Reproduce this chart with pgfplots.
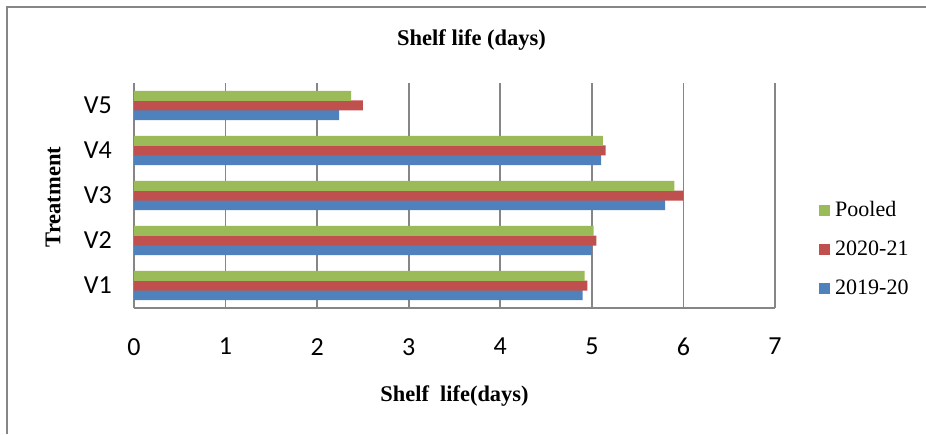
\documentclass[border=0pt]{standalone}
\usepackage{fontspec}
\setmainfont{Liberation Serif}
\newfontfamily\calibri{Carlito}
\usepackage{pgfplots}
\pgfplotsset{compat=1.18}
\definecolor{cBlue}{HTML}{4F81BD}
\definecolor{cRed}{HTML}{C0504D}
\definecolor{cGreen}{HTML}{9BBB59}
\definecolor{cGrid}{HTML}{868686}
\begin{document}
\begin{tikzpicture}[x=1pt,y=1pt]
\useasboundingbox (0pt,0pt) rectangle (926pt,434pt);
\draw[cGrid, line width=1.5pt] (7pt,0pt) -- (7pt,427pt) -- (926pt,427pt);
\node[font=\fontsize{22.5}{24}\selectfont\bfseries] at (471.5pt,394pt) {Shelf life (days)};
\begin{axis}[
  at={(134pt,126pt)}, anchor=south west,
  scale only axis, width=641pt, height=225pt,
  xbar, bar width=10pt,
  xmin=0, xmax=7, ymin=0.5, ymax=5.5,
  xtick={0,...,7}, ytick={1,...,5},
  yticklabels={V1,V2,V3,V4,V5},
  /pgf/number format/assume math mode=true,
  major tick length=0pt,
  axis lines*=left, axis line style={cGrid, line width=1.6pt, -},
  xmajorgrids, grid style={cGrid, line width=1.6pt},
  ticklabel style={font=\calibri\fontsize{26}{28}\selectfont},
  xticklabel style={inner sep=0pt, yshift=-30pt},
  yticklabel style={inner sep=0pt, xshift=-22pt},
  xlabel={Shelf\ \ life(days)},
  xlabel style={at={(axis description cs:0.5,-0.391)}, anchor=center, font=\fontsize{22.4}{24}\selectfont\bfseries},
  ylabel={Treatment},
  ylabel style={at={(axis description cs:-0.126,0.493)}, anchor=center, rotate=0, font=\fontsize{22.5}{24}\selectfont\bfseries},
  legend style={at={(axis description cs:1.064,0.485)}, anchor=north west, draw=none, fill=none,
    font=\fontsize{22}{24}\selectfont, row sep=20pt,
    nodes={inner sep=0pt, text height=15pt, text depth=4pt, anchor=west},
    /tikz/every odd column/.append style={column sep=5pt}},
  legend image code/.code={\fill[#1,draw=none] (0pt,-5.5pt) rectangle (11pt,5.5pt);},
  reverse legend,
]
\addplot[fill=cBlue, draw=none, bar shift=-9.7pt] coordinates {(4.90,1) (5.00,2) (5.80,3) (5.10,4) (2.24,5)};
\addplot[fill=cRed, draw=none, bar shift=0pt] coordinates {(4.95,1) (5.05,2) (6.00,3) (5.15,4) (2.50,5)};
\addplot[fill=cGreen, draw=none, bar shift=9.7pt] coordinates {(4.92,1) (5.02,2) (5.90,3) (5.12,4) (2.37,5)};
\legend{2019-20,2020-21,Pooled}
\end{axis}
\end{tikzpicture}
\end{document}
